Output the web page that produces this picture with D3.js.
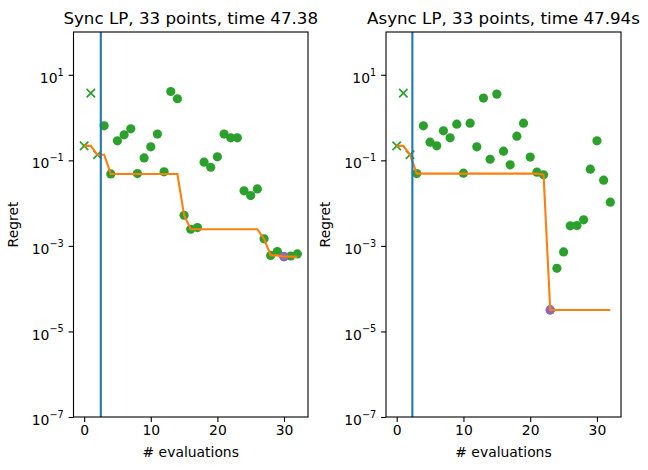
<!DOCTYPE html>
<html><head><meta charset="utf-8">
<script src="https://cdn.jsdelivr.net/npm/d3@7"></script>
<style>body{margin:0;background:#fff} svg{display:block} text{font-family:"DejaVu Sans",sans-serif}</style>
</head><body><svg id="c" width="648" height="470"></svg>
<script>
// ---- data ----
const evaluations = [0,1,2,3,4,5,6,7,8,9,10,11,12,13,14,15,16,17,18,19,20,21,22,23,24,25,26,27,28,29,30,31,32];
const initialIdx = [0,1,2];
const initialRegret = [0.218,3.73,0.135];
const sampleIdx = [3,4,5,6,7,8,9,10,11,12,13,14,15,16,17,18,19,20,21,22,23,24,25,26,27,28,29,30,31,32];
const syncRegret = [0.64,0.048,0.286,0.395,0.546,0.049,0.114,0.207,0.41,0.0538,4.07,2.75,0.0052,0.00245,0.00268,0.0906,0.069,0.121,0.41,0.336,0.336,0.0194,0.0150,0.0215,0.00146,0.00060,0.00074,0.00056,0.00058,0.00065];
const asyncRegret = [0.049,0.64,0.266,0.218,0.49,0.336,0.70,0.050,0.74,0.207,2.85,0.106,3.53,0.164,0.0785,0.367,0.74,0.119,0.0529,0.046,3.18e-5,0.0003,0.000724,0.00294,0.0030,0.00406,0.0622,0.286,0.0344,0.0105];
const syncBest = [0.218,0.218,0.135,0.135,0.048,0.048,0.048,0.048,0.048,0.048,0.048,0.048,0.048,0.048,0.048,0.0052,0.00245,0.00245,0.00245,0.00245,0.00245,0.00245,0.00245,0.00245,0.00245,0.00245,0.00245,0.00146,0.0006,0.0006,0.00056,0.00056,0.00056];
const asyncBest = [0.218,0.218,0.135,0.049,0.049,0.049,0.049,0.049,0.049,0.049,0.049,0.049,0.049,0.049,0.049,0.049,0.049,0.049,0.049,0.049,0.049,0.049,0.046,3.18e-5,3.18e-5,3.18e-5,3.18e-5,3.18e-5,3.18e-5,3.18e-5,3.18e-5,3.18e-5,3.18e-5];
const xTicks = [0,10,20,30];
const yTickExponents = [1,-1,-3,-5,-7];
const titles = ["Sync LP, 33 points, time 47.38","Async LP, 33 points, time 47.94s"];
const cutoffs = [2.5,2.35];

const C = {blue:"#1f77b4",orange:"#ff7f0e",green:"#2ca02c",purple:"#9467bd"};
const svg = d3.select("#c");
const FS = 13.9;
const top_ = 32, bottom = 417;

function panel(x0, x1, title, regret, best, cutoff){
  const g = svg.append("g");
  const x = d3.scaleLinear().domain([-1.6,33.6]).range([x0,x1]);
  const y = d3.scaleLog().domain([1e-7,1e2]).range([bottom,top_]);
  const clipId = "clip"+Math.round(x0);
  g.append("clipPath").attr("id",clipId).append("rect")
    .attr("x",x0).attr("y",top_).attr("width",x1-x0).attr("height",bottom-top_);
  const plot = g.append("g").attr("clip-path",`url(#${clipId})`);
  // crosses
  const cs = 4.2;
  initialIdx.forEach((xi,i)=>{
    const cx = x(xi), cy = y(initialRegret[i]);
    plot.append("path").attr("d",`M${cx-cs},${cy-cs}L${cx+cs},${cy+cs}M${cx-cs},${cy+cs}L${cx+cs},${cy-cs}`)
      .attr("stroke",C.green).attr("stroke-width",1.7).attr("fill","none");
  });
  // dots
  plot.selectAll("circle.d").data(sampleIdx.map((xi,i)=>[xi,regret[i]])).join("circle")
    .attr("class","d").attr("cx",d=>x(d[0])).attr("cy",d=>y(d[1])).attr("r",4.6).attr("fill",C.green);
  // best point
  const bi = d3.minIndex(regret);
  plot.append("circle").attr("cx",x(sampleIdx[bi])).attr("cy",y(regret[bi])).attr("r",4.6).attr("fill",C.purple);
  // best-so-far line
  plot.append("path").datum(evaluations.map((e,i)=>[e,best[i]]))
    .attr("d",d3.line().x(d=>x(d[0])).y(d=>y(d[1])))
    .attr("fill","none").attr("stroke",C.orange).attr("stroke-width",2.1);
  // vertical line
  plot.append("line").attr("x1",x(cutoff)).attr("x2",x(cutoff)).attr("y1",top_).attr("y2",bottom)
    .attr("stroke",C.blue).attr("stroke-width",2.1);
  // frame
  g.append("rect").attr("x",x0).attr("y",top_).attr("width",x1-x0).attr("height",bottom-top_)
    .attr("fill","none").attr("stroke","#000").attr("stroke-width",1.1);
  // x axis
  const xa = g.append("g").attr("transform",`translate(0,${bottom})`)
    .call(d3.axisBottom(x).tickValues(xTicks).tickSize(4.9).tickPadding(3.5).tickFormat(d3.format("d")));
  xa.select(".domain").remove();
  xa.selectAll("line").attr("stroke","#000").attr("stroke-width",1.1);
  xa.selectAll("text").attr("font-size",FS).attr("fill","#000").attr("font-family","DejaVu Sans");
  // y axis
  const ya = g.append("g").attr("transform",`translate(${x0},0)`)
    .call(d3.axisLeft(y).tickValues(yTickExponents.map(e=>Math.pow(10,e))).tickSize(4.9).tickPadding(4.9).tickFormat(""));
  ya.select(".domain").remove();
  ya.selectAll("line").attr("stroke","#000").attr("stroke-width",1.1);
  ya.selectAll(".tick").each(function(d){
    const e = Math.round(Math.log10(d));
    const t = d3.select(this).select("text").attr("font-size",FS).attr("fill","#000")
      .attr("font-family","DejaVu Sans").attr("dy","0.55em").attr("x",-9.8).attr("text-anchor","end");
    t.text(null);
    t.append("tspan").text("10");
    t.append("tspan").attr("font-size",FS*0.7).attr("dy","-0.75em").text(e<0?"\u2212"+(-e):String(e));
  });
  // labels
  g.append("text").attr("x",(x0+x1)/2).attr("y",24).attr("text-anchor","middle")
    .attr("font-size",16.7).text(title);
  g.append("text").attr("x",(x0+x1)/2).attr("y",457).attr("text-anchor","middle")
    .attr("font-size",FS).text("# evaluations");
  g.append("text").attr("transform",`translate(${x0-56},${(top_+bottom)/2}) rotate(-90)`)
    .attr("text-anchor","middle").attr("font-size",FS).text("Regret");
}
panel(73.5,308,titles[0],syncRegret,syncBest,cutoffs[0]);
panel(386,621,titles[1],asyncRegret,asyncBest,cutoffs[1]);
</script></body></html>
